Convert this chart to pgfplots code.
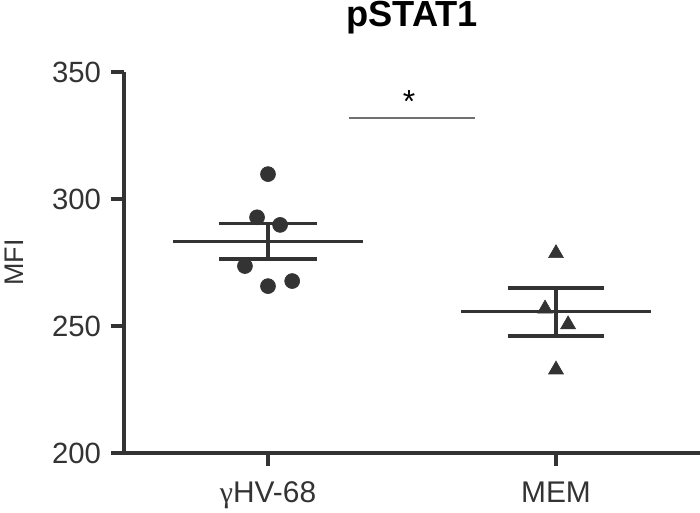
\documentclass[border=0pt]{standalone}
\usepackage{fontspec}
\setmainfont{Liberation Sans}
\newfontfamily\grk{Liberation Serif}
\usepackage{pgfplots}
\pgfplotsset{compat=1.18}
\definecolor{ink}{HTML}{333333}
\definecolor{sig}{HTML}{707070}
\begin{document}
\begin{tikzpicture}
\begin{axis}[
  scale only axis,
  width=288bp, height=190.5bp,
  xmin=0.5, xmax=2.5, ymin=200, ymax=350,
  axis lines*=left,
  axis line style={ink, line width=2bp},
  every tick/.style={ink, line width=2bp},
  tick align=outside,
  major tick length=6.5bp,
  xtick={1,2}, xticklabels={{\grk γ}HV-68, MEM},
  ytick={200,250,300,350},
  /pgf/number format/assume math mode=true,
  yticklabel style={font=\fontsize{14.7}{17}\selectfont, text=ink, xshift=-1.5bp},
  xticklabel style={font=\fontsize{15}{18}\selectfont, text=ink, yshift=-4.5bp},
  ylabel={MFI},
  ylabel style={at={(axis description cs:0,0.5)}, anchor=center, yshift=55bp, font=\fontsize{13.5}{16}\selectfont, text=ink},
  title={\textbf{pSTAT1}},
  title style={at={(axis description cs:0.5,1)}, anchor=base, yshift=16.8bp, font=\fontsize{18.2}{21}\selectfont, text=black},
  clip=false,
]
% group 1: gammaHV-68
\addplot[only marks, mark=*, mark size=3.75bp, mark options={fill=ink, draw=ink, line width=0.3bp}]
  coordinates {(1.0,309.8) (0.962,292.8) (1.042,289.8) (0.92,273.6) (1.0,265.7) (1.084,267.7)};
\addplot[ink, line width=1.7bp, no marks] coordinates {(0.67,283.3) (1.33,283.3)};
\addplot[ink, line width=1.7bp, no marks] coordinates {(0.83,290.4) (1.17,290.4)};
\addplot[ink, line width=1.7bp, no marks] coordinates {(0.83,276.3) (1.17,276.3)};
\addplot[ink, line width=1.7bp, no marks] coordinates {(1.0,276.3) (1.0,290.4)};
% group 2: MEM
\addplot[only marks, mark=triangle*, mark size=4.3bp, mark options={fill=ink, draw=ink, line width=0.3bp}]
  coordinates {(2.0,278.6) (1.962,256.8) (2.042,250.6) (2.0,232.8)};
\addplot[ink, line width=1.7bp, no marks] coordinates {(1.67,255.6) (2.33,255.6)};
\addplot[ink, line width=1.7bp, no marks] coordinates {(1.833,265.0) (2.167,265.0)};
\addplot[ink, line width=1.7bp, no marks] coordinates {(1.833,246.0) (2.167,246.0)};
\addplot[ink, line width=1.7bp, no marks] coordinates {(2.0,246.0) (2.0,265.0)};
% significance
\addplot[sig, line width=1bp, no marks] coordinates {(1.28,331.9) (1.72,331.9)};
\node[anchor=base, font=\fontsize{16}{19}\selectfont, text=black] at (axis cs:1.49,334.0) {*};
\coordinate (bbll) at (rel axis cs:0,0);
\coordinate (bbur) at (rel axis cs:1,1);
\end{axis}
\pgfresetboundingbox
\path[use as bounding box] ([shift={(-62bp,-30bp)}]bbll) rectangle ([shift={(0bp,36bp)}]bbur);
\end{tikzpicture}
\end{document}
